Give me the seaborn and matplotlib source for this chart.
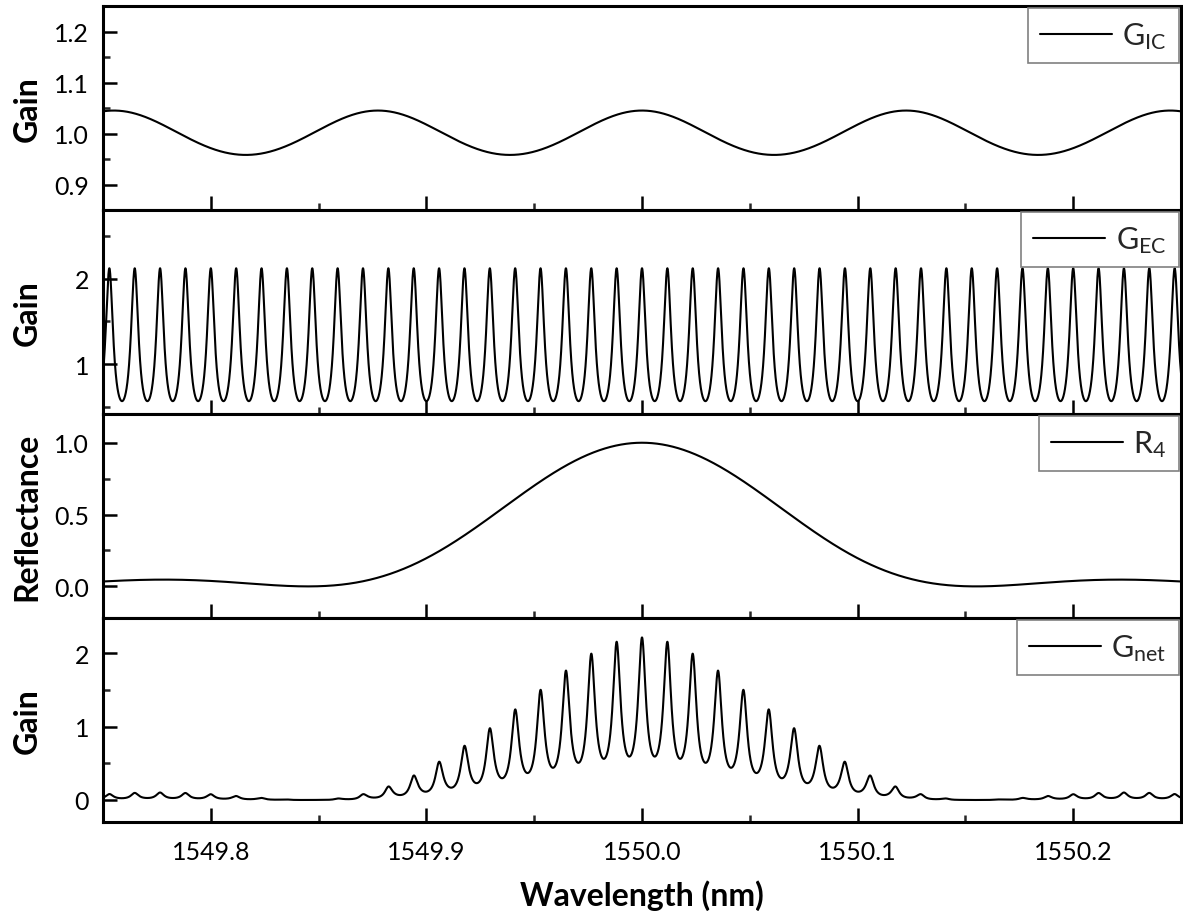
import numpy as np
import pandas as pd
import matplotlib
matplotlib.use("Agg")
import matplotlib.pyplot as plt
from matplotlib.ticker import MultipleLocator, FormatStrFormatter
from matplotlib.lines import Line2D
import seaborn as sns

# ---------------- data ----------------
wl_range = [1549.75, 1550.25]          # nm
n_samples = 20001
# internal cavity gain G_IC (periodic, peak at 1550.0)
gic_center = 1550.0
gic_period = 0.1225                    # nm
gic_max, gic_min = 1.045, 0.958
# external cavity gain G_EC (comb, peak at 1550.0)
gec_center = 1550.0
gec_period = 0.2 / 17                  # nm
gec_max, gec_min = 2.12, 0.57
# reflectance R4 (sinc^2-like grating response)
r4_center = 1550.0
r4_peak = 1.0
r4_first_zero = 0.155                  # nm from center

labels = ["G_{IC}", "G_{EC}", "R_{4}", "G_{net}"]
ylabels = ["Gain", "Gain", "Reflectance", "Gain"]
ylims = [(0.85, 1.25), (0.42, 2.8), (-0.22, 1.2), (-0.30, 2.48)]
ymajor = [0.1, 1.0, 0.5, 1.0]
yminor = [0.05, 0.5, 0.25, 0.5]
yfmt = ["%.1f", "%d", "%.1f", "%d"]
xticks_major = 0.1
xticks_minor = 0.05

# ---------------- curves ----------------
wl = np.linspace(wl_range[0], wl_range[1], n_samples)

def airy(x, c, p, gmax, gmin):
    F = gmax / gmin - 1.0
    return gmax / (1.0 + F * np.sin(np.pi * (x - c) / p) ** 2)

g_ic = airy(wl, gic_center, gic_period, gic_max, gic_min)
g_ec = airy(wl, gec_center, gec_period, gec_max, gec_min)
r4 = r4_peak * np.sinc((wl - r4_center) / r4_first_zero) ** 2
g_net = g_ic * g_ec * r4

df = pd.DataFrame({"wl": wl, "G_IC": g_ic, "G_EC": g_ec, "R4": r4, "G_net": g_net})
cols = ["G_IC", "G_EC", "R4", "G_net"]

# ---------------- style ----------------
sns.set_theme(style="ticks")
plt.rcParams["font.family"] = ["Lato", "DejaVu Sans"]
plt.rcParams["axes.linewidth"] = 2.0
plt.rcParams["mathtext.default"] = "regular"

fig = plt.figure(figsize=(11.83, 9.12), dpi=100)
gs = fig.add_gridspec(4, 1, left=103 / 1183, right=1181 / 1183,
                      top=1 - 7 / 912, bottom=1 - 823 / 912, hspace=0)
axes = [fig.add_subplot(gs[i]) for i in range(4)]

for i, ax in enumerate(axes):
    sns.lineplot(data=df, x="wl", y=cols[i], ax=ax, color="black",
                 linewidth=1.5, estimator=None, sort=False)
    ax.set_xlim(*wl_range)
    ax.set_ylim(*ylims[i])
    ax.xaxis.set_major_locator(MultipleLocator(xticks_major))
    ax.xaxis.set_minor_locator(MultipleLocator(xticks_minor))
    ax.yaxis.set_major_locator(MultipleLocator(ymajor[i]))
    ax.yaxis.set_minor_locator(MultipleLocator(yminor[i]))
    ax.yaxis.set_major_formatter(FormatStrFormatter(yfmt[i]))
    ax.xaxis.set_major_formatter(FormatStrFormatter("%.1f"))
    ax.tick_params(axis="both", which="major", direction="in", length=10,
                   width=1.8, labelsize=18, colors="black",
                   top=False, right=False)
    ax.tick_params(axis="y", which="major", pad=10)
    ax.tick_params(axis="x", which="major", pad=13)
    ax.tick_params(axis="both", which="minor", direction="in", length=5,
                   width=1.8, top=False, right=False)
    for s in ax.spines.values():
        s.set_visible(True)
        s.set_linewidth(2.2)
        s.set_color("black")
    ax.set_ylabel(ylabels[i], fontsize=23, fontweight="bold", color="black")
    ax.yaxis.set_label_coords(-0.057, 0.5)
    if i < 3:
        ax.tick_params(axis="x", which="both", labelbottom=False)
        ax.set_xlabel("")
    else:
        ax.set_xlabel("Wavelength (nm)", fontsize=23, fontweight="bold",
                      color="black", labelpad=12)
    h = Line2D([], [], color="black", linewidth=1.5)
    leg = ax.legend([h], [f"${labels[i]}$"], loc="upper right", fontsize=22,
                    frameon=True, fancybox=False, framealpha=1,
                    edgecolor="#808080", handlelength=2.35, handletextpad=0.35,
                    borderpad=0.4, borderaxespad=0.07)
    leg.get_frame().set_linewidth(1.2)

fig.savefig("out.png", dpi=100)
